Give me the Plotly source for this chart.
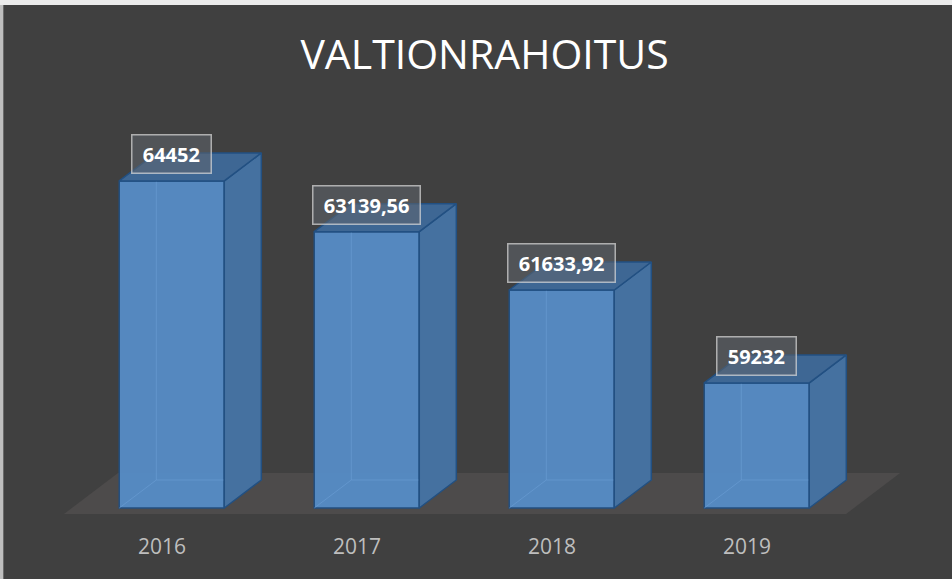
import plotly.graph_objects as go

years = ["2016", "2017", "2018", "2019"]
values = [64452, 63139.56, 61633.92, 59232]
labels = ["64452", "63139,56", "61633,92", "59232"]

Y0 = 56000.0
YMIN = 55690.0
YMAX = 66543.0
BAR_W = 0.5385
OFF = 0.05
DX = 0.19
DY = 723.5

FRONT = "rgb(86,139,196)"
SIDE = "rgb(69,113,160)"
TOP = "rgb(62,103,148)"
EDGE = "rgb(34,80,130)"

fig = go.Figure()

xs = [i + OFF for i in range(len(values))]

# floor
fig.add_shape(
    type="path", xref="x", yref="y", layer="below",
    path="M -0.5026 55845 L 3.508 55845 L 3.785 56904 L -0.2256 56904 Z",
    fillcolor="rgb(77,75,75)", line=dict(width=0))

# back (hidden) edges seen through the translucent bars
for xc, v in zip(xs, values):
    xl = xc - BAR_W / 2
    fig.add_trace(go.Scatter(
        x=[xl, xl + DX, xl + DX, None, xl + DX, xl + DX + BAR_W],
        y=[Y0, Y0 + DY, v + DY, None, Y0 + DY, Y0 + DY],
        mode="lines", line=dict(color="rgba(110,160,215,0.55)", width=1),
        hoverinfo="skip", showlegend=False))

# front faces
fig.add_trace(go.Bar(
    x=xs, y=[v - Y0 for v in values], base=Y0, width=BAR_W,
    marker=dict(color=FRONT, opacity=0.97, line=dict(color=EDGE, width=1.5)),
    showlegend=False, hoverinfo="skip"))

# side and top faces
for xc, v in zip(xs, values):
    xl = xc - BAR_W / 2
    xr = xc + BAR_W / 2
    fig.add_trace(go.Scatter(
        x=[xr, xr + DX, xr + DX, xr, xr],
        y=[Y0, Y0 + DY, v + DY, v, Y0],
        fill="toself", fillcolor=SIDE, mode="lines",
        line=dict(color=EDGE, width=1.5), hoverinfo="skip", showlegend=False))
    fig.add_trace(go.Scatter(
        x=[xl, xl + DX, xr + DX, xr, xl],
        y=[v, v + DY, v + DY, v, v],
        fill="toself", fillcolor=TOP, mode="lines",
        line=dict(color=EDGE, width=1.5), hoverinfo="skip", showlegend=False))

# data labels
for xc, v, t in zip(xs, values, labels):
    fig.add_annotation(
        x=xc, y=v, xref="x", yref="y", text="&nbsp;<b>%s</b>&nbsp;" % t,
        showarrow=False, yshift=27,
        font=dict(family="Open Sans", size=20, color="white"),
        bgcolor="rgba(95,100,108,0.55)", bordercolor="rgba(220,220,220,0.7)",
        borderwidth=1.5, borderpad=5)

# outer frame strips
fig.add_shape(type="rect", xref="paper", yref="paper", x0=0, x1=1,
              y0=(520 - 5) / 420, y1=1.5, fillcolor="rgb(235,235,235)", line=dict(width=0))
fig.add_shape(type="rect", xref="paper", yref="paper", x0=-0.01, x1=0.0035,
              y0=-1, y1=(520 - 5) / 420, fillcolor="rgb(190,190,190)", line=dict(width=0))

fig.update_layout(
    width=952, height=579,
    margin=dict(l=0, r=0, t=100, b=59),
    paper_bgcolor="rgb(64,64,64)", plot_bgcolor="rgba(0,0,0,0)",
    title=dict(text="VALTIONRAHOITUS", x=0.509, xanchor="center",
               y=1 - 55 / 579, yanchor="middle", yref="container",
               font=dict(family="Open Sans", size=41, color="white")),
    xaxis=dict(range=[-0.8308, 4.0513], tickvals=[0, 1, 2, 3], ticktext=years,
               showgrid=False, zeroline=False, showline=False, ticks="",
               ticklabelstandoff=12,
               tickfont=dict(family="Open Sans", size=21, color="rgb(190,190,190)")),
    yaxis=dict(range=[YMIN, YMAX], visible=False, showgrid=False, zeroline=False),
    showlegend=False,
)

fig.write_html("out.html", config={"displayModeBar": False},
               post_script="document.body.style.margin='0px';document.body.style.padding='0px';")
